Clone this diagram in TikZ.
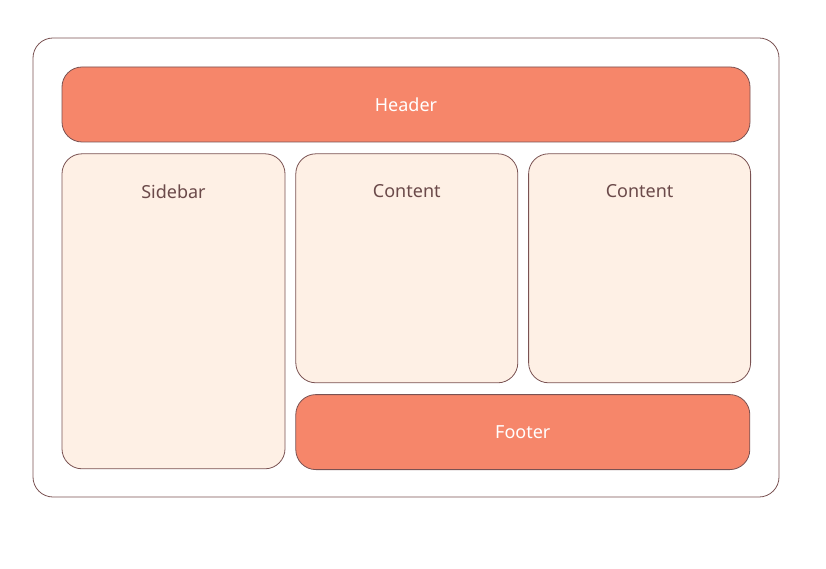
\documentclass[tikz,border=0pt]{standalone}
\usepackage{fontspec}
\setmainfont{Noto Sans}
\usetikzlibrary{positioning}

\definecolor{edgebrown}{HTML}{7A5252}
\definecolor{barsalmon}{HTML}{F6866A}
\definecolor{panelcream}{HTML}{FEF0E5}
\definecolor{labelbrown}{HTML}{6B4A4A}

\tikzset{
  box/.style={draw=edgebrown,line width=0.8pt,rounded corners=20pt},
  bar/.style={box,fill=barsalmon,text=white,minimum height=75pt},
  panel/.style={box,fill=panelcream,text=labelbrown,minimum width=222pt}
}

\begin{document}
\begin{tikzpicture}[x=1pt,y=1pt,font=\fontsize{18}{22}\selectfont,node distance=11pt]
\useasboundingbox (0,0) rectangle (826,568);
\node[box,fill=white,minimum width=746pt,minimum height=459pt] (frame) at (406,300.5) {};
\node[bar,minimum width=688pt] (header) at (406,463.5) {Header};
\node[panel,minimum width=223pt,minimum height=315pt,
  below right=11pt and 0pt of header.south west,
  label={[anchor=center,yshift=-38pt,text=labelbrown]north:Sidebar}] (sidebar) {};
\node[panel,minimum height=229pt,
  below right=0pt and 10pt of sidebar.north east,
  label={[anchor=center,yshift=-38pt,text=labelbrown]north:Content}] (content_1) {};
\node[panel,minimum height=229pt,
  below right=0pt and 10pt of content_1.north east,
  label={[anchor=center,yshift=-38pt,text=labelbrown]north:Content}] (content_2) {};
\node[bar,minimum width=454pt,
  below right=11pt and 0pt of content_1.south west] (footer) {Footer};
\end{tikzpicture}
\end{document}
